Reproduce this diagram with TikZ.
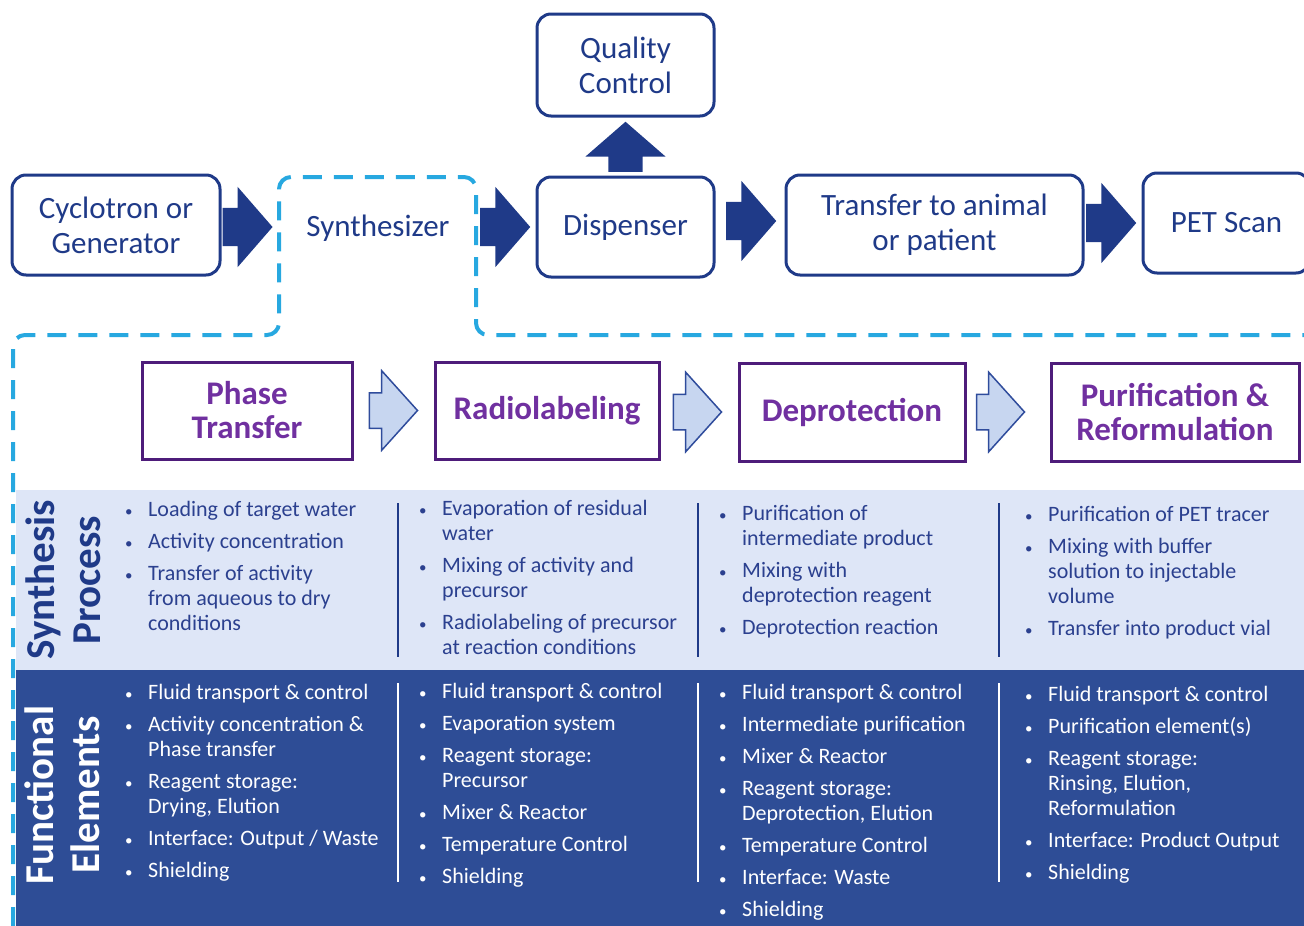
\documentclass[tikz,border=0pt]{standalone}
\usepackage{fontspec}
\setmainfont{Carlito}
\usetikzlibrary{shapes.arrows,calc}
\definecolor{navy}{HTML}{1F3A88}
\definecolor{purpleline}{HTML}{4E1C7A}
\definecolor{purpletext}{HTML}{7030A0}
\definecolor{lightband}{HTML}{DEE6F7}
\definecolor{darkband}{HTML}{2E4D96}
\definecolor{lightarrow}{HTML}{C7D6F0}
\definecolor{lightarrowline}{HTML}{2F4C9C}
\definecolor{dashblue}{HTML}{27A8E0}
\definecolor{listnavy}{HTML}{2B408F}
\newcommand{\bul}{{\fontsize{15}{15}\selectfont\textbullet}}
\begin{document}
\begin{tikzpicture}[x=1pt,y=-1pt,
	topbox/.style = {draw=navy, line width=3pt, rounded corners=14pt, text=navy, font=\fontsize{31}{35}\selectfont, align=center, inner sep=0pt},
	stepbox/.style = {draw=purpleline, line width=3pt, text=purpletext, font=\fontsize{33}{34}\selectfont\bfseries, align=center, inner sep=0pt},
	bigarrow/.style = {single arrow, anchor=tip, fill=navy, inner xsep=0pt, inner ysep=19pt, minimum height=50pt, minimum width=80pt, single arrow head extend=21pt, single arrow tip angle=98},
	lightarr/.style = {single arrow, anchor=tip, draw=lightarrowline, fill=lightarrow, line width=1.5pt, inner xsep=0pt, inner ysep=17pt, minimum height=48pt, minimum width=78pt, single arrow head extend=22pt, single arrow tip angle=96},
	sidelabel/.style = {rotate=90, font=\fontsize{41}{46}\selectfont\bfseries, align=center},
	blist/.style = {anchor=north west, inner sep=0pt, font=\fontsize{22}{25}\selectfont},
	synline/.style = {draw=dashblue, line width=4pt, dash pattern=on 19pt off 12pt, rounded corners=12pt},
	sepline/.style = {line width=1.5pt}]
	\useasboundingbox (0,0) rectangle (1304,926);
	% bands
	\fill[lightband] (16,490) rectangle (1304,670);
	\fill[darkband] (16,670) rectangle (1304,926);
	% synthesizer outline
	\draw[synline] (13,926) -- (13,335) -- (279,335) -- (279,177) -- (476,177) -- (476,335) -- (1304,335);
	% top row
	\node[topbox, minimum width=208pt, minimum height=100pt] (cyc) at (116,225) {Cyclotron or\\Generator};
	\node[minimum width=196pt, minimum height=100pt, inner sep=0pt, text=navy, font=\fontsize{31}{35}\selectfont] (syn) at (378,228) {Synthesizer};
	\node[topbox, minimum width=177pt, minimum height=100pt] (disp) at (625.5,227) {Dispenser};
	\node[topbox, minimum width=177pt, minimum height=102pt] (qc) at (625.5,65) {Quality\\Control};
	\node[topbox, minimum width=297pt, minimum height=100pt] (trans) at (934.5,225) {Transfer to animal\\or patient};
	\node[topbox, minimum width=167pt, minimum height=100pt] (pet) at (1226.5,223) {PET Scan};
	\node[bigarrow] (a1) at ($(syn.west)+(-7,-1)$) {};
	\node[bigarrow] (a2) at ($(disp.west)+(-5,0)$) {};
	\node[bigarrow] (a3) at ($(trans.west)+(-8,-4)$) {};
	\node[bigarrow] (a4) at ($(pet.west)+(-5,0)$) {};
	\node[bigarrow, rotate=90, inner ysep=17pt, single arrow head extend=23pt] (a5) at ($(qc.south)+(0,4)$) {};
	% synthesis steps
	\node[stepbox, minimum width=210pt, minimum height=97pt] (pt) at (247,410.5) {Phase\\Transfer};
	\node[stepbox, minimum width=224pt, minimum height=97pt] (rl) at (547,410.5) {Radiolabeling};
	\node[stepbox, minimum width=226pt, minimum height=98pt] (dp) at (852,412) {Deprotection};
	\node[stepbox, minimum width=248pt, minimum height=98pt] (pr) at (1175,412) {Purification \&\\Reformulation};
	\node[lightarr] (b1) at ($(rl.west)+(-15,0)$) {};
	\node[lightarr] (b2) at ($(dp.west)+(-15,0)$) {};
	\node[lightarr] (b3) at ($(pr.west)+(-24,0)$) {};
	% side labels
	\node[sidelabel, text=navy] (sp) at (63,580) {Synthesis\\Process};
	\node[sidelabel, text=white] (fe) at (62,795) {Functional\\Elements};
	% column separators
	\draw[sepline, navy] (398,503) -- (398,657);
	\draw[sepline, navy] (698,503) -- (698,657);
	\draw[sepline, navy] (999,503) -- (999,657);
	\draw[sepline, white] (398,683) -- (398,882);
	\draw[sepline, white] (698,683) -- (698,882);
	\draw[sepline, white] (999,683) -- (999,882);
	% synthesis process lists
	\node[blist, text=listnavy] (s1) at (125,498.5) {\begin{tabular}{@{}p{23pt}@{}l@{}}
		\bul & Loading of target water\\[7pt]
		\bul & Activity concentration\\[7pt]
		\bul & Transfer of activity\\
		& from aqueous to dry\\
		& conditions
	\end{tabular}};
	\node[blist, text=listnavy] (s2) at (419,497.5) {\begin{tabular}{@{}p{23pt}@{}l@{}}
		\bul & Evaporation of residual\\
		& water\\[7pt]
		\bul & Mixing of activity and\\
		& precursor\\[7pt]
		\bul & Radiolabeling of precursor\\
		& at reaction conditions
	\end{tabular}};
	\node[blist, text=listnavy] (s3) at (719,502.5) {\begin{tabular}{@{}p{23pt}@{}l@{}}
		\bul & Purification of\\
		& intermediate product\\[7pt]
		\bul & Mixing with\\
		& deprotection reagent\\[7pt]
		\bul & Deprotection reaction
	\end{tabular}};
	\node[blist, text=listnavy] (s4) at (1025,503.5) {\begin{tabular}{@{}p{23pt}@{}l@{}}
		\bul & Purification of PET tracer\\[7pt]
		\bul & Mixing with buffer\\
		& solution to injectable\\
		& volume\\[7pt]
		\bul & Transfer into product vial
	\end{tabular}};
	% functional elements lists
	\node[blist, text=white] (f1) at (125,681.5) {\begin{tabular}{@{}p{23pt}@{}l@{}}
		\bul & Fluid transport \& control\\[7pt]
		\bul & Activity concentration \&\\
		& Phase transfer\\[7pt]
		\bul & Reagent storage:\\
		& Drying, Elution\\[7pt]
		\bul & Interface: Output / Waste\\[7pt]
		\bul & Shielding
	\end{tabular}};
	\node[blist, text=white] (f2) at (419,680.5) {\begin{tabular}{@{}p{23pt}@{}l@{}}
		\bul & Fluid transport \& control\\[7pt]
		\bul & Evaporation system\\[7pt]
		\bul & Reagent storage:\\
		& Precursor\\[7pt]
		\bul & Mixer \& Reactor\\[7pt]
		\bul & Temperature Control\\[7pt]
		\bul & Shielding
	\end{tabular}};
	\node[blist, text=white] (f3) at (719,681.5) {\begin{tabular}{@{}p{23pt}@{}l@{}}
		\bul & Fluid transport \& control\\[7pt]
		\bul & Intermediate purification\\[7pt]
		\bul & Mixer \& Reactor\\[7pt]
		\bul & Reagent storage:\\
		& Deprotection, Elution\\[7pt]
		\bul & Temperature Control\\[7pt]
		\bul & Interface: Waste\\[7pt]
		\bul & Shielding
	\end{tabular}};
	\node[blist, text=white] (f4) at (1025,683.5) {\begin{tabular}{@{}p{23pt}@{}l@{}}
		\bul & Fluid transport \& control\\[7pt]
		\bul & Purification element(s)\\[7pt]
		\bul & Reagent storage:\\
		& Rinsing, Elution,\\
		& Reformulation\\[7pt]
		\bul & Interface: Product Output\\[7pt]
		\bul & Shielding
	\end{tabular}};
\end{tikzpicture}
\end{document}
